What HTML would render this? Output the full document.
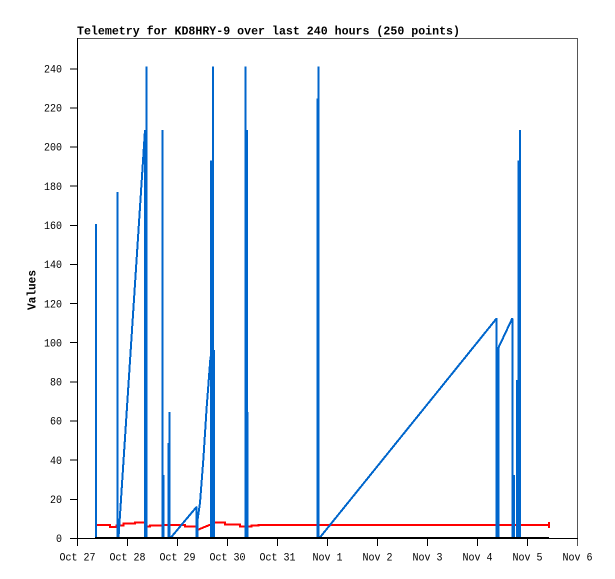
<!DOCTYPE html>
<html><head><meta charset="utf-8"><style>
html,body{margin:0;padding:0;background:#fff;}
svg{display:block;}
text{font-family:"Liberation Mono","DejaVu Sans Mono",monospace;fill:#000;}
</style></head><body>
<svg width="615" height="579" viewBox="0 0 615 579" xmlns="http://www.w3.org/2000/svg">
<rect width="615" height="579" fill="#fff"/>
<text x="77" y="34.5" font-size="12" font-weight="bold" textLength="383" lengthAdjust="spacingAndGlyphs">Telemetry for KD8HRY-9 over last 240 hours (250 points)</text>
<text transform="translate(35.5,290) rotate(-90)" text-anchor="middle" font-size="12" font-weight="bold" textLength="40" lengthAdjust="spacingAndGlyphs">Values</text>
<g shape-rendering="crispEdges">
<line x1="77" y1="38.5" x2="578" y2="38.5" stroke="#555" stroke-width="1"/>
<line x1="577.5" y1="38" x2="577.5" y2="546" stroke="#555" stroke-width="1"/>
<line x1="77.5" y1="38" x2="77.5" y2="546" stroke="#000" stroke-width="1"/>
<line x1="70" y1="538.5" x2="578" y2="538.5" stroke="#000" stroke-width="1"/>
<g stroke="#000" stroke-width="1">
<line x1="70" y1="68.8" x2="77" y2="68.8"/>
<line x1="70" y1="107.9" x2="77" y2="107.9"/>
<line x1="70" y1="147.0" x2="77" y2="147.0"/>
<line x1="70" y1="186.2" x2="77" y2="186.2"/>
<line x1="70" y1="225.3" x2="77" y2="225.3"/>
<line x1="70" y1="264.4" x2="77" y2="264.4"/>
<line x1="70" y1="303.6" x2="77" y2="303.6"/>
<line x1="70" y1="342.7" x2="77" y2="342.7"/>
<line x1="70" y1="381.9" x2="77" y2="381.9"/>
<line x1="70" y1="421.0" x2="77" y2="421.0"/>
<line x1="70" y1="460.1" x2="77" y2="460.1"/>
<line x1="70" y1="499.3" x2="77" y2="499.3"/>
<line x1="127.5" y1="538" x2="127.5" y2="546"/>
<line x1="177.5" y1="538" x2="177.5" y2="546"/>
<line x1="227.5" y1="538" x2="227.5" y2="546"/>
<line x1="277.5" y1="538" x2="277.5" y2="546"/>
<line x1="327.5" y1="538" x2="327.5" y2="546"/>
<line x1="377.5" y1="538" x2="377.5" y2="546"/>
<line x1="427.5" y1="538" x2="427.5" y2="546"/>
<line x1="477.5" y1="538" x2="477.5" y2="546"/>
<line x1="527.5" y1="538" x2="527.5" y2="546"/>
</g>
</g>
<g font-size="11" text-anchor="end">
<text x="62" y="72.5" textLength="18" lengthAdjust="spacingAndGlyphs">240</text>
<text x="62" y="111.6" textLength="18" lengthAdjust="spacingAndGlyphs">220</text>
<text x="62" y="150.7" textLength="18" lengthAdjust="spacingAndGlyphs">200</text>
<text x="62" y="189.9" textLength="18" lengthAdjust="spacingAndGlyphs">180</text>
<text x="62" y="229.0" textLength="18" lengthAdjust="spacingAndGlyphs">160</text>
<text x="62" y="268.1" textLength="18" lengthAdjust="spacingAndGlyphs">140</text>
<text x="62" y="307.3" textLength="18" lengthAdjust="spacingAndGlyphs">120</text>
<text x="62" y="346.4" textLength="18" lengthAdjust="spacingAndGlyphs">100</text>
<text x="62" y="385.6" textLength="12" lengthAdjust="spacingAndGlyphs">80</text>
<text x="62" y="424.7" textLength="12" lengthAdjust="spacingAndGlyphs">60</text>
<text x="62" y="463.8" textLength="12" lengthAdjust="spacingAndGlyphs">40</text>
<text x="62" y="503.0" textLength="12" lengthAdjust="spacingAndGlyphs">20</text>
<text x="62" y="542.0" textLength="6" lengthAdjust="spacingAndGlyphs">0</text>
</g>
<g font-size="11" text-anchor="middle">
<text x="77.5" y="560.5" textLength="36" lengthAdjust="spacingAndGlyphs">Oct 27</text>
<text x="127.5" y="560.5" textLength="36" lengthAdjust="spacingAndGlyphs">Oct 28</text>
<text x="177.5" y="560.5" textLength="36" lengthAdjust="spacingAndGlyphs">Oct 29</text>
<text x="227.5" y="560.5" textLength="36" lengthAdjust="spacingAndGlyphs">Oct 30</text>
<text x="277.5" y="560.5" textLength="36" lengthAdjust="spacingAndGlyphs">Oct 31</text>
<text x="327.5" y="560.5" textLength="30" lengthAdjust="spacingAndGlyphs">Nov 1</text>
<text x="377.5" y="560.5" textLength="30" lengthAdjust="spacingAndGlyphs">Nov 2</text>
<text x="427.5" y="560.5" textLength="30" lengthAdjust="spacingAndGlyphs">Nov 3</text>
<text x="477.5" y="560.5" textLength="30" lengthAdjust="spacingAndGlyphs">Nov 4</text>
<text x="527.5" y="560.5" textLength="30" lengthAdjust="spacingAndGlyphs">Nov 5</text>
<text x="577.5" y="560.5" textLength="30" lengthAdjust="spacingAndGlyphs">Nov 6</text>
</g>
<g shape-rendering="crispEdges" fill="none">
<path d="M96.5,525 H110 V527 H116.7 V525.7 H123.3 V523.7 H135 V522.7 H146.7 V526.7 H150 V525.7 H163.3 V525 H185 V526.3 H196.7 L198,529.7 L215,522.7 H225 V524.3 H240 V526.7 H251.7 V525.7 H258.3 V525 H549" stroke="#ff0000" stroke-width="2"/>
<line x1="549" y1="522" x2="549" y2="528" stroke="#ff0000" stroke-width="2"/>
<path d="M96,538 V224 V538 H117.7 V192 V538 L118.5,538 L145,130 V538 H146.5 V66.7 V538 H162.5 V130 V538 H163.5 V475 V538 H168.5 V443 V538 H169.5 V412 V538 H170.5 L196.7,506.7 V538 H197.5 V520 L200,503 L203.3,460 L206.7,406.7 L210.5,357 H211.2 V160.7 V538 H213 V66.7 V538 H213.8 V350 V538 H245.5 V66.7 V538 H247 V130 V538 H247.5 V412 V538 H317.5 V98.3 V538 H318.5 V66.7 V538 H319.5 L496.7,318.3 V428 V538 H498 V348 V538 H498.3 V348 L512.3,318.3 V538 H514 V475 V538 H517 V380 V538 H518.5 V160.7 V538 H520 V130 V538 H549" stroke="#0066cc" stroke-width="2" stroke-linejoin="bevel"/>
<line x1="95" y1="538" x2="549" y2="538" stroke="#000" stroke-width="2"/>
</g>
</svg>
</body></html>
